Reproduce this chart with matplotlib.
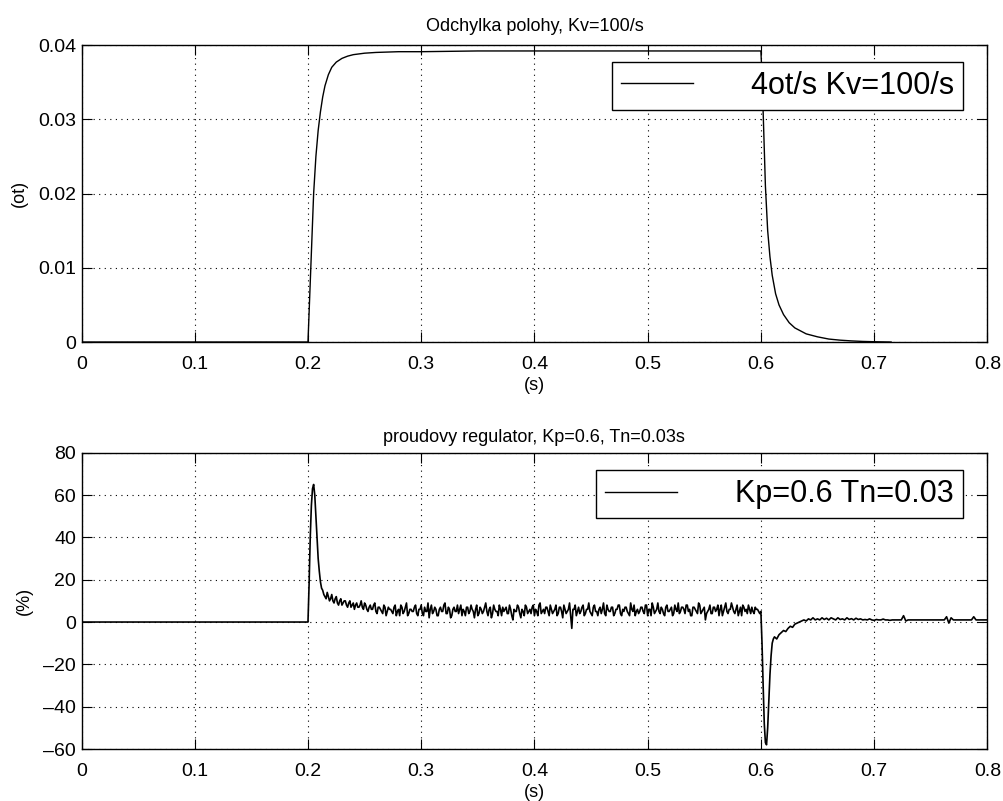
import numpy as np
import matplotlib
matplotlib.use("Agg")
import matplotlib.pyplot as plt

plt.rcParams['font.family'] = ['Liberation Sans', 'DejaVu Sans']

# --- top panel: position error (ot) ---
t_pos = [0.0, 0.2, 0.201, 0.202, 0.203, 0.204, 0.205, 0.207, 0.209, 0.211,
         0.213, 0.215, 0.218, 0.221, 0.225, 0.23, 0.235, 0.24, 0.25, 0.26,
         0.28, 0.3, 0.35, 0.4, 0.5, 0.6, 0.601, 0.602, 0.603, 0.604, 0.606,
         0.608, 0.61, 0.613, 0.616, 0.62, 0.625, 0.63, 0.64, 0.65, 0.66,
         0.67, 0.68, 0.69, 0.7, 0.715]
pos_err = [0.0, 0.0, 0.004, 0.008, 0.012, 0.016, 0.020, 0.025, 0.0285, 0.031,
           0.033, 0.0345, 0.036, 0.037, 0.0377, 0.0382, 0.0385, 0.0387, 0.0389, 0.039,
           0.0391, 0.0391, 0.0392, 0.0392, 0.0392, 0.0392, 0.036, 0.031, 0.026, 0.021, 0.015,
           0.0115, 0.009, 0.0065, 0.005, 0.0037, 0.0026, 0.0019, 0.0011, 0.0007, 0.0004,
           0.00025, 0.00015, 0.00008, 0.00004, 0.0]

# --- bottom panel: current controller output (%) ---
t_idle = [0.0, 0.2]
cur_idle = [0.0, 0.0]

t_peak = [0.201, 0.202, 0.203, 0.204, 0.205, 0.206, 0.207, 0.208, 0.209,
          0.21, 0.211, 0.212]
cur_peak = [18, 40, 55, 63, 65, 60, 50, 40, 30, 24, 19, 16]

# samples at 0.213, 0.215, ... 0.599
cur_run = [15, 12, 14, 10, 13, 9, 12, 8, 11, 9,
           10, 7, 10, 8, 6, 9, 7, 10, 6, 8,
           5, 8, 6, 9, 4, 7, 5, 8, 3, 7,
           6, 4, 8, 5, 3, 7, 5, 9, 4, 6,
           5, 8, 3, 6, 4, 7, 5, 2, 8, 5,
           6, 3, 7, 5, 9, 4, 6, 3, 7, 5,
           4, 8, 6, 3, 7, 5, 6, 2, 8, 4,
           6, 5, 9, 3, 7, 4, 6, 5, 8, 3,
           5, 7, 4, 6, 1, 5, 8, 4, 6, 3,
           7, 5, 4, 8, 6, 3, 9, 5, 4, 7,
           3, 6, 5, 8, 4, 7, 2, 6, 5, 9,
           -3, 6, 3, 7, 5, 8, 4, 6, 5, 3,
           8, 5, 6, 4, 9, 3, 6, 5, 7, 4,
           6, 8, 3, 5, 7, 4, 9, 5, 3, 6,
           5, 7, 4, 8, 6, 3, 7, 5, 9, 4,
           6, 3, 8, 5, 7, 4, 6, 9, 5, 7,
           4, 8, 6, 3, 7, 5, 9, 4, 6, 1,
           5, 8, 4, 7, 6, 3, 8, 5, 9, 4,
           6, 7, 4, 8, 5, 3, 7, 6, 8, 4,
           5, 7, 6, 4]

# samples in between: 0.214, 0.216, ... 0.598
cur_run_mid = [13, 11, 12, 11, 10, 11, 9, 10, 8, 10,
               8, 9, 7, 9, 8, 7, 8, 7, 9, 6,
               7, 6, 8, 5, 7, 6, 4, 7, 5, 6,
               5, 7, 3, 6, 8, 4, 7, 3, 6, 5,
               7, 4, 6, 8, 3, 5, 9, 6, 4, 7,
               3, 6, 5, 8, 4, 7, 2, 6, 5, 8,
               6, 3, 5, 7, 4, 8, 5, 6, 3, 7,
               4, 7, 5, 6, 2, 8, 5, 3, 6, 7,
               6, 4, 8, 3, 6, 5, 7, 2, 5, 8,
               4, 6, 7, 3, 5, 8, 4, 6, 7, 5,
               8, 4, 6, 3, 7, 5, 8, 4, 6, 3,
               6, 8, 5, 4, 7, 3, 6, 9, 4, 7,
               5, 3, 7, 6, 4, 8, 5, 7, 3, 6,
               8, 4, 6, 7, 5, 3, 6, 8, 5, 4,
               7, 5, 8, 3, 6, 9, 4, 6, 5, 7,
               4, 7, 5, 6, 3, 8, 5, 4, 7, 6,
               8, 5, 3, 7, 6, 4, 8, 5, 7, 4,
               6, 4, 7, 5, 8, 6, 3, 7, 5, 6,
               9, 5, 6, 3, 7, 8, 5, 4, 6, 7,
               4, 6, 5]

t_stop = [0.6, 0.601, 0.602, 0.603, 0.604, 0.605, 0.606, 0.607, 0.608,
          0.609, 0.61, 0.611]
cur_stop = [5, -10, -30, -48, -57, -58, -50, -38, -25, -16, -10, -8]

# samples at 0.612, 0.614, ... 0.8
cur_tail = [-7, -8, -6, -5, -4, -4.5, -3, -2, -2.5, -1,
            -0.5, 0, 0.5, 1, 0.5, 1.5, 1, 2, 1, 1.5,
            1, 2, 1.2, 1.8, 1, 2, 1.5, 1, 2, 1.2,
            1.5, 1, 2, 1.2, 1.6, 1, 1.8, 1.2, 1.5, 1,
            1.2, 1, 1.5, 1, 0.8, 1.2, 1, 1, 1.4, 1,
            1, 0.8, 1, 1, 1, 1, 1, 3, 0.5, 1,
            1, 1, 1, 1, 1, 1, 1, 1, 1, 1,
            1, 1, 1, 1, 1, 1, 2.5, -0.5, 2, 1,
            1, 1, 1, 1, 1, 1, 1, 1, 2.5, 1,
            1, 1, 1, 1, 1]

run = np.empty(len(cur_run) + len(cur_run_mid))
run[0::2] = cur_run
run[1::2] = cur_run_mid
t_run = 0.213 + 0.001 * np.arange(len(run))
t_tail = 0.612 + 0.002 * np.arange(len(cur_tail))
t_cur = np.concatenate([t_idle, t_peak, t_run, t_stop, t_tail])
cur = np.concatenate([cur_idle, cur_peak, run, cur_stop, cur_tail])

xticks = [0, 0.1, 0.2, 0.3, 0.4, 0.5, 0.6, 0.7, 0.8]
xticklabels = ['0', '0.1', '0.2', '0.3', '0.4', '0.5', '0.6', '0.7', '0.8']
yticks_top = [0, 0.01, 0.02, 0.03, 0.04]
yticklabels_top = ['0', '0.01', '0.02', '0.03', '0.04']
yticks_bot = [-60, -40, -20, 0, 20, 40, 60, 80]
yticklabels_bot = ['\u201360', '\u201340', '\u201320', '0', '20', '40', '60', '80']

fig = plt.figure(figsize=(10.04, 8.01), dpi=100)
ax1 = fig.add_axes([0.0812, 0.5730, 0.9022, 0.3708])
ax2 = fig.add_axes([0.0812, 0.0649, 0.9022, 0.3699])


def style(ax):
    ax.set_xlim(0, 0.8)
    ax.set_xticks(xticks)
    ax.set_xticklabels(xticklabels)
    ax.grid(True, color='k', linestyle=(0, (1, 4)), linewidth=0.8)
    ax.tick_params(direction='in', length=7, width=0.8, top=True, right=True,
                   labelsize=14, colors='k')
    ax.tick_params(axis='x', pad=10)
    ax.tick_params(axis='y', pad=4)
    for s in ax.spines.values():
        s.set_linewidth(1.0)
    ax.set_xlabel('(s)', fontsize=13, labelpad=3)


ax1.plot(t_pos, pos_err, color='k', linewidth=1.0, label='4ot/s Kv=100/s')
style(ax1)
ax1.set_ylim(0, 0.04)
ax1.set_yticks(yticks_top)
ax1.set_yticklabels(yticklabels_top)
ax1.set_ylabel('(ot)', fontsize=13, labelpad=7)
ax1.set_title('Odchylka polohy, Kv=100/s', fontsize=13, pad=10)

ax2.plot(t_cur, cur, color='k', linewidth=1.2, label='Kp=0.6 Tn=0.03')
style(ax2)
ax2.set_ylim(-60, 80)
ax2.set_yticks(yticks_bot)
ax2.set_yticklabels(yticklabels_bot)
ax2.set_ylabel('(%)', fontsize=13, labelpad=7)
ax2.set_title('proudovy regulator, Kp=0.6, Tn=0.03s', fontsize=13, pad=8)

for ax, anchor in ((ax1, (0.9732, 0.9438)), (ax2, (0.9732, 0.9416))):
    leg = ax.legend(loc='upper right', bbox_to_anchor=anchor, fontsize=22,
                    fancybox=False, framealpha=1, edgecolor='k',
                    handlelength=2.35, handletextpad=1.9, borderpad=0.3,
                    borderaxespad=0)
    leg.get_frame().set_linewidth(1.0)
    leg.get_lines()[0].set_linewidth(1.0)

fig.savefig('out.png', dpi=100)
